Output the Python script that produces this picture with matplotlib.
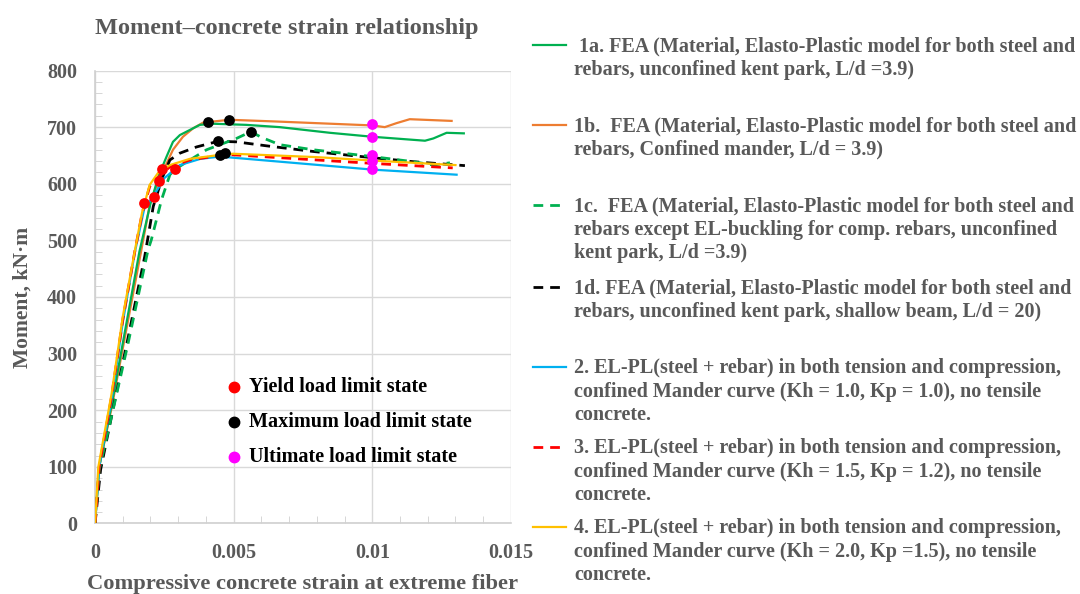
import matplotlib.pyplot as plt
from matplotlib.lines import Line2D
from matplotlib.ticker import MultipleLocator

plt.rcParams['font.family'] = ['Liberation Serif', 'DejaVu Serif']
plt.rcParams['font.weight'] = 'bold'

GRAY = '#595959'

# curves: strain at extreme fiber vs moment (kN.m)
x_1a = [0, 0.00015, 0.0006, 0.0011, 0.0016, 0.002, 0.0023, 0.00258, 0.00281, 0.00306, 0.00342, 0.00378,
        0.00426, 0.00546, 0.00666, 0.00847, 0.01, 0.0119, 0.0122, 0.01268, 0.0133]
y_1a = [0, 100, 210, 345, 480, 565, 615, 648, 674, 686, 695, 704, 706, 704, 700, 690, 683, 676, 680, 690, 689]

x_1b = [0, 0.00015, 0.0006, 0.0011, 0.00167, 0.002, 0.00245, 0.00281, 0.00317, 0.00354, 0.0039,
        0.00485, 0.0065, 0.01, 0.01045, 0.01087, 0.01135, 0.01286]
y_1b = [0, 100, 205, 335, 483, 570, 622, 660, 683, 698, 708, 713, 710, 703, 700, 707, 714, 711]

x_1c = [0, 0.00015, 0.0006, 0.0012, 0.00191, 0.00203, 0.0024, 0.0027, 0.0029, 0.00342, 0.00402, 0.0051,
        0.00562, 0.006, 0.00666, 0.00787, 0.01, 0.01147, 0.0122, 0.0128]
y_1c = [0, 95, 190, 320, 483, 501, 572, 616, 626, 642, 660, 680, 692, 682, 669, 660, 648, 639, 633, 637]

x_1d = [0, 0.0002, 0.00064, 0.0012, 0.00179, 0.0021, 0.00242, 0.0027, 0.00306, 0.00366, 0.00444,
        0.0051, 0.00618, 0.00787, 0.01, 0.01147, 0.01334]
y_1d = [0, 95, 200, 330, 471, 560, 610, 642, 654, 665, 675, 674, 667, 657, 646, 639, 632]

x_2 = [0, 0.00015, 0.0006, 0.001, 0.00144, 0.00177, 0.00213, 0.0025, 0.00306, 0.0038, 0.0045, 0.00666,
       0.01, 0.01304]
y_2 = [0, 100, 220, 355, 480, 555, 580, 610, 633, 644, 648, 639, 625, 616]

x_3 = [0, 0.00015, 0.0006, 0.001, 0.00144, 0.0017, 0.00197, 0.0023, 0.0027, 0.00342, 0.0045, 0.00468,
       0.007, 0.01, 0.0129]
y_3 = [0, 100, 225, 360, 482, 548, 595, 612, 630, 642, 650, 652, 645, 636, 628]

x_4 = [0, 0.00012, 0.0006, 0.001, 0.00144, 0.0017, 0.00197, 0.00227, 0.0027, 0.00342, 0.0045,
       0.00498, 0.008, 0.01, 0.013]
y_4 = [0, 100, 230, 365, 483, 550, 598, 619, 633, 644, 651, 653, 647, 641, 633]

# limit-state points
yield_x = [0.00177, 0.00213, 0.0023, 0.00242, 0.0029]
yield_y = [566, 576, 605, 626, 626]
max_x = [0.00408, 0.00483, 0.00562, 0.00444, 0.0045, 0.00468]
max_y = [709, 713, 692, 675, 651, 655]
ult_x = [0.01, 0.01, 0.01, 0.01, 0.01]
ult_y = [705, 683, 651, 640, 626]

labels = [
    ' 1a. FEA (Material, Elasto-Plastic model for both steel and\nrebars, unconfined kent park, L/d =3.9)',
    '1b.  FEA (Material, Elasto-Plastic model for both steel and\nrebars, Confined mander, L/d = 3.9)',
    '1c.  FEA (Material, Elasto-Plastic model for both steel and\nrebars except EL-buckling for comp. rebars, unconfined\nkent park, L/d =3.9)',
    '1d. FEA (Material, Elasto-Plastic model for both steel and\nrebars, unconfined kent park, shallow beam, L/d = 20)',
    '2. EL-PL(steel + rebar) in both tension and compression,\nconfined Mander curve (Kh = 1.0, Kp = 1.0), no tensile\nconcrete.',
    '3. EL-PL(steel + rebar) in both tension and compression,\nconfined Mander curve (Kh = 1.5, Kp = 1.2), no tensile\nconcrete.',
    '4. EL-PL(steel + rebar) in both tension and compression,\nconfined Mander curve (Kh = 2.0, Kp =1.5), no tensile\nconcrete.',
]
colors = ['#00B050', '#ED7D31', '#00B050', '#000000', '#00B0F0', '#FF0000', '#FFC000']
styles = ['-', '-', '--', '--', '-', '--', '-']
series = [(x_1a, y_1a), (x_1b, y_1b), (x_1c, y_1c), (x_1d, y_1d), (x_2, y_2), (x_3, y_3), (x_4, y_4)]

fig = plt.figure(figsize=(10.8, 5.94), dpi=100)
ax = fig.add_axes([0.088, 0.1187, 0.3851, 0.7626])

draw_order = [1, 0, 3, 2, 4, 5, 6]
for i in draw_order:
    xs, ys = series[i]
    ls = styles[i]
    lw = 2.0 if ls == '--' else 1.6
    ln, = ax.plot(xs, ys, color=colors[i], lw=lw, ls=ls, zorder=3)
    if ls == '--':
        ln.set_dashes((3.5, 2.5))

ax.scatter(yield_x, yield_y, s=60, color='#FF0000', zorder=5, linewidths=0)
ax.scatter(max_x, max_y, s=60, color='#000000', zorder=5, linewidths=0)
ax.scatter(ult_x, ult_y, s=60, color='#FF00FF', zorder=5, linewidths=0)

ax.set_xlim(0, 0.015)
ax.set_ylim(0, 800)
ax.xaxis.set_major_locator(MultipleLocator(0.005))
ax.xaxis.set_minor_locator(MultipleLocator(0.001))
ax.yaxis.set_major_locator(MultipleLocator(100))
ax.yaxis.set_minor_locator(MultipleLocator(20))
ax.set_xticks([0, 0.005, 0.01, 0.015])
ax.set_xticklabels(['0', '0.005', '0.01', '0.015'])
ax.grid(True, which='major', color='#D9D9D9', lw=1.0, zorder=0)
for side in ['top', 'right']:
    ax.spines[side].set_visible(False)
for side in ['left', 'bottom']:
    ax.spines[side].set_color('#D0D0D0')
    ax.spines[side].set_linewidth(1.2)
ax.tick_params(which='both', direction='in', color='#D0D0D0', labelcolor=GRAY, labelsize=14.5)
ax.tick_params(which='major', length=0)
ax.tick_params(which='minor', length=5)
ax.tick_params(axis='y', which='major', pad=13)
ax.tick_params(axis='x', which='major', pad=14)

ax.set_xlabel('Compressive concrete strain at extreme fiber', fontsize=16.2, color=GRAY,
              fontweight='bold', labelpad=8)
ax.set_ylabel('Moment, kN·m', fontsize=15.5, color=GRAY, fontweight='bold', labelpad=10)
fig.text(0.2655, 0.952, 'Moment–concrete strain relationship', fontsize=17.5, color=GRAY,
         ha='center', va='center')

# marker key inside the plot area
key = [('#FF0000', 'Yield load limit state'), ('#000000', 'Maximum load limit state'),
       ('#FF00FF', 'Ultimate load limit state')]
for k, (c, t) in enumerate(key):
    yy = 0.349 - k * 0.0595
    fig.add_artist(Line2D([0.2167], [yy], marker='o', markersize=7.5, color=c, lw=0,
                          transform=fig.transFigure))
    fig.text(0.2305, yy, t, fontsize=14.5, color='black', va='center', ha='left')

# series key on the right
tops = [45, 125, 205, 287, 367, 447, 527]
for i in range(7):
    ypx = tops[i]
    yf = 1 - ypx / 594
    ln = Line2D([0.4935, 0.524], [yf, yf], color=colors[i], lw=2.0 if styles[i] == '--' else 1.6,
                ls=styles[i], transform=fig.transFigure)
    if styles[i] == '--':
        ln.set_dashes((3.5, 2.5))
    fig.add_artist(ln)
    fig.text(0.5315, yf + 0.0145, labels[i], fontsize=14.5, color=GRAY, va='top', ha='left',
             linespacing=1.22)

fig.savefig('out.png', dpi=100)
